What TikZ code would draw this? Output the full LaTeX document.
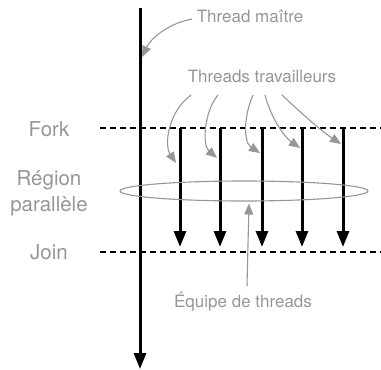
\documentclass[tikz,border=0pt]{standalone}
\usepackage{fontspec}
\setmainfont{TeX Gyre Heros}
\usetikzlibrary{arrows.meta,positioning,calc,shapes.geometric}
\definecolor{labelgray}{HTML}{969696}

\begin{document}
\begin{tikzpicture}[
    x=1pt, y=-1pt,
    >=Latex,
    thread/.style={-{Triangle[length=16pt,width=12pt]}, line width=3pt},
    pointer/.style={-{Triangle[length=11pt,width=9pt]}, draw=labelgray, line width=1.1pt},
    phase/.style={line width=1.1pt, dash pattern=on 6pt off 4pt},
    caption/.style={text=labelgray, font=\fontsize{17}{20}\selectfont},
    side/.style={text=labelgray, font=\fontsize{20.5}{26}\selectfont, align=center},
]
  \useasboundingbox (0,0) rectangle (381,370);

  %––– Labels ––––––––––––––––––––––––––––––––––––––––––––––
  \node (maitre)       [caption] at (250,16)  {Thread maître};
  \node (travailleurs) [caption] at (262,76)  {Threads travailleurs};
  \node (equipe)       [caption] at (243,302) {Équipe de threads};
  \node (fork)   [side] at (49,129) {Fork};
  \node (region) [side] at (49,193) {Région\\parallèle};
  \node (join)   [side] at (49,252) {Join};

  %––– Fork / Join lines –––––––––––––––––––––––––––––––––––
  \coordinate (fork start) at (100,128);
  \coordinate (fork end)   at (381,128);
  \coordinate (join start) at (100,252);
  \coordinate (join end)   at (381,252);
  \draw[phase] (fork start) -- (fork end);
  \draw[phase] (join start) -- (join end);

  %––– Master thread ––––––––––––––––––––––––––––––––––––––––
  \coordinate (master top) at (140,8);
  \coordinate (master end) at (140,369);
  \draw[thread] (master top) -- (master end);

  %––– Worker threads –––––––––––––––––––––––––––––––––––––––
  \foreach \x [count=\i] in {180,220,262,302,343}{
    \coordinate (w\i top) at (\x,128);
    \coordinate (w\i end) at (\x,247);
    \draw[thread] (w\i top) -- (w\i end);
  }

  %––– Team ellipse –––––––––––––––––––––––––––––––––––––––––
  \node (team) [draw=labelgray, line width=1.1pt, ellipse, inner sep=0pt,
        minimum width=248pt, minimum height=20pt] at (244,191) {};

  %––– Pointers –––––––––––––––––––––––––––––––––––––––––––––
  \coordinate (m from) at (192,19);
  \coordinate (m to)   at (142,57);
  \draw[pointer] (m from) .. controls (166,24) and (150,40) .. (m to);

  \coordinate (p1) at (191,95);
  \coordinate (p2) at (218,95);
  \coordinate (p3) at (253,95);
  \coordinate (p4) at (265,95);
  \coordinate (p5) at (282,95);
  \coordinate (t1) at (176,163);
  \coordinate (t2) at (217,158);
  \coordinate (t3) at (260,153);
  \coordinate (t4) at (300,148);
  \coordinate (t5) at (341,144);
  \draw[pointer] (p1) .. controls (168,112) and (164,145) .. (t1);
  \draw[pointer] (p2) .. controls (204,112) and (202,145) .. (t2);
  \draw[pointer] (p3) .. controls (244,115) and (243,142) .. (t3);
  \draw[pointer] (p4) .. controls (270,115) and (283,136) .. (t4);
  \draw[pointer] (p5) .. controls (300,112) and (320,130) .. (t5);

  \coordinate (e from) at (247,286);
  \draw[pointer] (e from) -- ($(team.south)+(5,2)$);
\end{tikzpicture}
\end{document}
